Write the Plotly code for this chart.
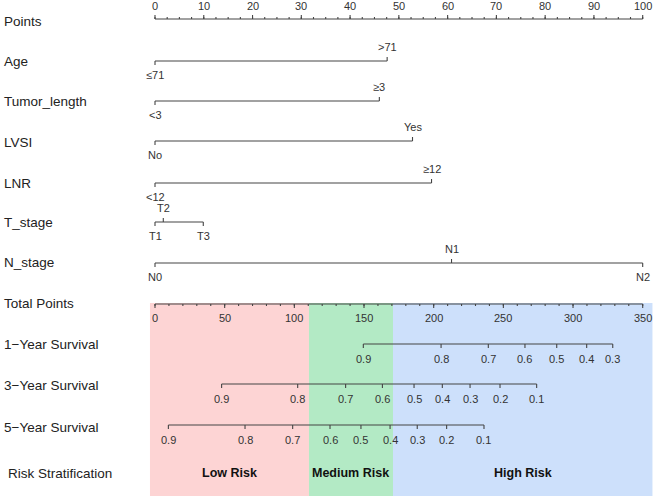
import plotly.graph_objects as go

# ---------------- data ----------------
points_ticks = list(range(0, 101, 10))
points_minor = [i * 2.5 for i in range(0, 41)]

variables = ["Age", "Tumor_length", "LVSI", "LNR", "T_stage", "N_stage"]
age_levels = ["≤71", ">71"]
age_points = [0, 47.6]
tumor_levels = ["<3", "≥3"]
tumor_points = [0, 46.0]
lvsi_levels = ["No", "Yes"]
lvsi_points = [0, 52.8]
lnr_levels = ["<12", "≥12"]
lnr_points = [0, 56.7]
tstage_levels = ["T1", "T2", "T3"]
tstage_points = [0, 1.7, 9.9]
nstage_levels = ["N0", "N1", "N2"]
nstage_points = [0, 60.8, 100]

total_ticks = list(range(0, 351, 50))
total_minor = list(range(0, 351, 10))
total_max = 350

surv1_labels = ["0.9", "0.8", "0.7", "0.6", "0.5", "0.4", "0.3"]
surv1_total = [149.5, 205.3, 239.2, 265.5, 288.3, 309.8, 328.5]
surv3_labels = ["0.9", "0.8", "0.7", "0.6", "0.5", "0.4", "0.3", "0.2", "0.1"]
surv3_total = [47.8, 102.4, 136.8, 163.2, 185.9, 206.2, 226.1, 247.6, 273.9]
surv5_labels = ["0.9", "0.8", "0.7", "0.6", "0.5", "0.4", "0.3", "0.2", "0.1"]
surv5_total = [9.6, 64.6, 98.8, 125.6, 147.8, 168.7, 188.2, 209.3, 236.1]

risk_labels = ["Low Risk", "Medium Risk", "High Risk"]
risk_bounds = [-3.6, 110.5, 170.8, 357.0]
risk_colors = ["#FDD4D4", "#B3EAC5", "#CDE0FB"]

row_labels = ["Points", "Age", "Tumor_length", "LVSI", "LNR", "T_stage", "N_stage",
              "Total Points", "1−Year Survival", "3−Year Survival", "5−Year Survival",
              "Risk Stratification"]

# ---------------- layout helpers ----------------
W, H = 669, 496
X0_PX, X100_PX = 155.0, 642.7
k = (X100_PX - X0_PX) / 100.0
xmin = -X0_PX / k
xmax = xmin + W / k

FONT = "Liberation Sans, Arial, sans-serif"
LINE = "#444444"
TXT = "#333333"

row_y = [19, 61, 101, 141, 183, 222, 263, 304, 344, 384, 425, 473]
label_y = [21, 61, 101, 142, 183, 222, 262, 303, 344, 385, 427, 473]


def tp(t):
    return t * 100.0 / total_max


fig = go.Figure()
annotations = []
shapes = []


def add_segments(segs, width=1.1):
    xs, ys = [], []
    for (xa, ya, xb, yb) in segs:
        xs += [xa, xb, None]
        ys += [ya, yb, None]
    fig.add_trace(go.Scatter(x=xs, y=ys, mode="lines",
                             line=dict(color=LINE, width=width),
                             hoverinfo="skip", showlegend=False))


def add_text(x, y, text, size=11, color=TXT, bold=False, xanchor="center"):
    annotations.append(dict(x=x, y=y, xref="x", yref="y", text=("<b>%s</b>" % text) if bold else text,
                            showarrow=False, xanchor=xanchor, yanchor="middle",
                            font=dict(family=FONT, size=size, color=color)))


# risk background bands
for i in range(3):
    shapes.append(dict(type="rect", xref="x", yref="y",
                       x0=tp(risk_bounds[i]), x1=tp(risk_bounds[i + 1]),
                       y0=303, y1=H, fillcolor=risk_colors[i], line=dict(width=0),
                       layer="below"))

# Points axis (ticks up, labels above)
y = row_y[0]
segs = [(points_ticks[0], y, points_ticks[-1], y)]
for v in points_minor:
    segs.append((v, y, v, y - 2))
for v in points_ticks:
    segs.append((v, y, v, y - 4))
    add_text(v, 6, str(v))
add_segments(segs)

# variable rows
var_data = [(age_levels, age_points), (tumor_levels, tumor_points), (lvsi_levels, lvsi_points),
            (lnr_levels, lnr_points), (tstage_levels, tstage_points), (nstage_levels, nstage_points)]
for r, (levels, pts) in enumerate(var_data):
    y = row_y[r + 1]
    segs = [(min(pts), y, max(pts), y)]
    for j, (lv, p) in enumerate(zip(levels, pts)):
        if j % 2 == 0:
            segs.append((p, y, p, y + 4))
            add_text(p, y + 14, lv)
        else:
            segs.append((p, y, p, y - 4))
            add_text(p, y - 14, lv)
    add_segments(segs)

# Total points axis (ticks down, labels below)
y = row_y[7]
segs = [(tp(total_ticks[0]), y, tp(total_ticks[-1]), y)]
for v in total_minor:
    segs.append((tp(v), y, tp(v), y + 2))
for v in total_ticks:
    segs.append((tp(v), y, tp(v), y + 4))
    add_text(tp(v), y + 14, str(v))
add_segments(segs)

# survival axes
for r, (labs, tots) in enumerate([(surv1_labels, surv1_total), (surv3_labels, surv3_total),
                                  (surv5_labels, surv5_total)]):
    y = row_y[8 + r]
    segs = [(tp(min(tots)), y, tp(max(tots)), y)]
    for lab, t in zip(labs, tots):
        segs.append((tp(t), y, tp(t), y + 4))
        add_text(tp(t), y + 15, lab)
    add_segments(segs)

# risk labels
for i, lab in enumerate(risk_labels):
    mid = (risk_bounds[i] + risk_bounds[i + 1]) / 2.0
    add_text(tp(mid), row_y[11], lab, size=12.5, color="#111111", bold=True)

# left row labels
for i, lab in enumerate(row_labels):
    xpx = 6 if lab == "Risk Stratification" else 1.5
    annotations.append(dict(x=xpx / W, y=label_y[i], xref="paper", yref="y", text=lab,
                            showarrow=False, xanchor="left", yanchor="middle",
                            font=dict(family=FONT, size=13.5, color="#222222")))

fig.update_layout(
    width=W, height=H,
    margin=dict(l=0, r=0, t=0, b=0),
    paper_bgcolor="white", plot_bgcolor="white",
    xaxis=dict(range=[xmin, xmax], visible=False, fixedrange=True),
    yaxis=dict(range=[H, 0], visible=False, fixedrange=True),
    annotations=annotations, shapes=shapes, showlegend=False,
)

fig.write_html("out.html", config={"displayModeBar": False},
               post_script="document.body.style.margin='0';document.body.style.overflow='hidden';")
